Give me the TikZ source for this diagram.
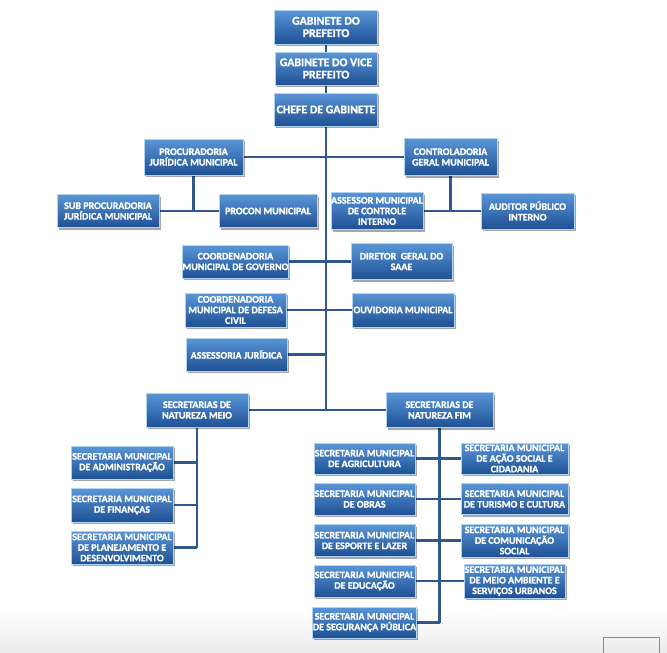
\documentclass[tikz,border=0pt]{standalone}
\usepackage{fontspec}
\setmainfont{Carlito}[BoldFeatures={FakeBold=1.2}]
\usetikzlibrary{shadows,backgrounds}
\definecolor{boxtop}{RGB}{90,150,215}
\definecolor{boxmid}{RGB}{48,112,185}
\definecolor{boxbot}{RGB}{30,80,148}
\definecolor{boxedge}{RGB}{175,212,242}
\definecolor{linkc}{RGB}{46,88,142}
\tikzset{
  orgbox/.style={rectangle, draw=boxedge, line width=0.9pt,
    top color=boxtop, middle color=boxmid, bottom color=boxbot,
    text=white, align=center, inner sep=0pt,
    font=\fontsize{10}{10.6}\selectfont\bfseries,
    drop shadow={shadow xshift=1.5pt, shadow yshift=-2pt, opacity=0.35, fill=black}},
  bigbox/.style={orgbox, font=\fontsize{11.8}{12.3}\selectfont\bfseries},
  link/.style={draw=linkc, line width=2.4pt},
}
\begin{document}
\begin{tikzpicture}[x=1pt,y=-1pt]
\useasboundingbox (0,0) rectangle (667,653);
% top
\node[bigbox, minimum width=103pt, minimum height=34pt] (gp) at (326,27) {GABINETE DO\\PREFEITO};
\node[bigbox, minimum width=102pt, minimum height=33pt] (gv) at (326,68.5) {GABINETE DO VICE\\PREFEITO};
\node[bigbox, minimum width=103pt, minimum height=33pt] (cg) at (326,109.5) {CHEFE DE GABINETE};
% second level
\node[orgbox, minimum width=99pt, minimum height=36pt] (pj) at (193.5,157) {PROCURADORIA\\JURÍDICA MUNICIPAL};
\node[orgbox, minimum width=93pt, minimum height=37pt] (cgm) at (450.5,157) {CONTROLADORIA\\GERAL MUNICIPAL};
\node[orgbox, minimum width=102pt, minimum height=33pt] (sub) at (108,211) {SUB PROCURADORIA\\JURÍDICA MUNICIPAL};
\node[orgbox, minimum width=98pt, minimum height=33pt] (procon) at (268,211) {PROCON MUNICIPAL};
\node[orgbox, minimum width=92pt, minimum height=37pt] (ass) at (377,211) {ASSESSOR MUNICIPAL\\DE CONTROLE\\INTERNO};
\node[orgbox, minimum width=93pt, minimum height=36pt] (aud) at (527.5,211) {AUDITOR PÚBLICO\\INTERNO};
\node[orgbox, minimum width=103pt, minimum height=33pt] (cgov) at (235.5,261.5) {COORDENADORIA\\MUNICIPAL DE GOVERNO};
\node[orgbox, minimum width=101pt, minimum height=36pt] (saae) at (401.5,261.5) {DIRETOR\ \ GERAL DO\\SAAE};
\node[orgbox, minimum width=101pt, minimum height=34pt] (civil) at (235.5,310) {COORDENADORIA\\MUNICIPAL DE DEFESA\\CIVIL};
\node[orgbox, minimum width=102pt, minimum height=34pt] (ouv) at (403,310) {OUVIDORIA MUNICIPAL};
\node[orgbox, minimum width=101pt, minimum height=33pt] (aj) at (236.5,354.5) {ASSESSORIA JURÍDICA};
\node[orgbox, minimum width=102pt, minimum height=34pt] (meio) at (197,410) {SECRETARIAS DE\\NATUREZA MEIO};
\node[orgbox, minimum width=107pt, minimum height=35pt] (fim) at (439.5,410) {SECRETARIAS DE\\NATUREZA FIM};
% meio
\node[orgbox, minimum width=102pt, minimum height=33pt] (adm) at (122,462.5) {SECRETARIA MUNICIPAL\\DE ADMINISTRAÇÃO};
\node[orgbox, minimum width=102pt, minimum height=34pt] (fin) at (122,505) {SECRETARIA MUNICIPAL\\DE FINANÇAS};
\node[orgbox, minimum width=102pt, minimum height=33pt] (plan) at (122,547.5) {SECRETARIA MUNICIPAL\\DE PLANEJAMENTO E\\DESENVOLVIMENTO};
% fim left
\node[orgbox, minimum width=101pt, minimum height=31pt] (agr) at (364.5,458.5) {SECRETARIA MUNICIPAL\\DE AGRICULTURA};
\node[orgbox, minimum width=101pt, minimum height=32pt] (obr) at (364.5,499) {SECRETARIA MUNICIPAL\\DE OBRAS};
\node[orgbox, minimum width=101pt, minimum height=32pt] (esp) at (364.5,540.5) {SECRETARIA MUNICIPAL\\DE ESPORTE E LAZER};
\node[orgbox, minimum width=101pt, minimum height=32pt] (edu) at (364.5,581) {SECRETARIA MUNICIPAL\\DE EDUCAÇÃO};
\node[orgbox, minimum width=101pt, minimum height=31pt] (seg) at (364.5,622.5) {SECRETARIA MUNICIPAL\\DE SEGURANÇA PÚBLICA};
% fim right
\node[orgbox, minimum width=107pt, minimum height=31pt] (acao) at (514.5,458.5) {SECRETARIA MUNICIPAL\\DE AÇÃO SOCIAL E\\CIDADANIA};
\node[orgbox, minimum width=107pt, minimum height=31pt] (tur) at (514.5,499) {SECRETARIA MUNICIPAL\\DE TURISMO E CULTURA};
\node[orgbox, minimum width=107pt, minimum height=33pt] (com) at (514.5,540.5) {SECRETARIA MUNICIPAL\\DE COMUNICAÇÃO\\SOCIAL};
\node[orgbox, minimum width=101pt, minimum height=34pt] (amb) at (514.5,581) {SECRETARIA MUNICIPAL\\DE MEIO AMBIENTE E\\SERVIÇOS URBANOS};
% connectors
\begin{scope}[on background layer]
\shade[top color=white, bottom color=black!8] (0,610) rectangle (667,653);
\path[link] (gp.south) -- (gv.north);
\path[link] (gv.south) -- (cg.north);
\coordinate (cbot) at (cg.south |- meio.east);
\path[link] (cg.south) -- (cbot);
\path[link] (pj.east) -- (cgm.west);
\coordinate (pjb) at (pj.south |- sub.east);
\path[link] (pj.south) -- (pjb);
\path[link] (sub.east) -- (procon.west);
\coordinate (cgmb) at (cgm.south |- ass.east);
\path[link] (cgm.south) -- (cgmb);
\path[link] (ass.east) -- (aud.west);
\path[link] (cgov.east) -- (saae.west);
\path[link] (civil.east) -- (ouv.west);
\coordinate (ajc) at (cbot |- aj.east);
\path[link] (aj.east) -- (ajc);
\path[link] (meio.east) -- (fim.west);
\coordinate (mb) at (meio.south |- plan.east);
\path[link] (meio.south) -- (mb);
\coordinate (madm) at (meio.south |- adm.east);
\coordinate (mfin) at (meio.south |- fin.east);
\path[link] (adm.east) -- (madm);
\path[link] (fin.east) -- (mfin);
\path[link] (plan.east) -- (mb);
\coordinate (fb) at (fim.south |- seg.east);
\path[link] (fim.south) -- (fb);
\path[link] (agr.east) -- (acao.west);
\path[link] (obr.east) -- (tur.west);
\path[link] (esp.east) -- (com.west);
\path[link] (edu.east) -- (amb.west);
\path[link] (seg.east) -- (fb);
\end{scope}
\draw[black!45, line width=0.8pt] (603,637) rectangle (659,656);
\end{tikzpicture}
\end{document}
